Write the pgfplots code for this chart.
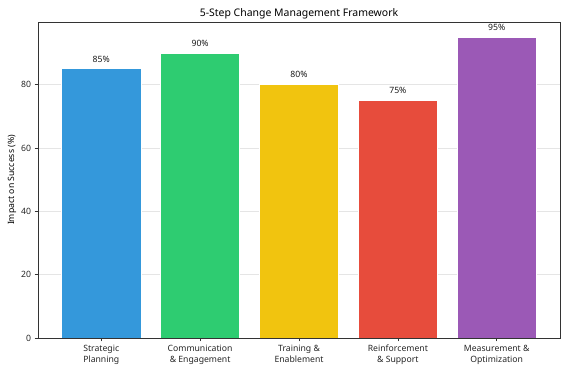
\documentclass[border=0pt]{standalone}
\usepackage{fontspec}
\setmainfont{Noto Sans}
\usepackage{pgfplots}
\pgfplotsset{compat=1.18}
\definecolor{c1}{HTML}{3498DB}
\definecolor{c2}{HTML}{2ECC71}
\definecolor{c3}{HTML}{F1C40F}
\definecolor{c4}{HTML}{E74C3C}
\definecolor{c5}{HTML}{9B59B6}
\definecolor{spine}{HTML}{333333}
\begin{document}
\begin{tikzpicture}
\begin{axis}[
  at={(0,0)}, anchor=south west,
  scale only axis, width=522bp, height=316bp,
  xmin=-0.64, xmax=4.64, ymin=0, ymax=99.75,
  xtick={0,1,2,3,4},
  xticklabels={{Strategic\\Planning},{Communication\\\& Engagement},{Training \&\\Enablement},{Reinforcement\\\& Support},{Measurement \&\\Optimization}},
  xticklabel style={align=center, font=\fontsize{8.7}{11}\selectfont, text=black!85},
  ytick={0,20,40,60,80},
  yticklabel style={font=\fontsize{8.7}{9.5}\selectfont, text=black!85},
  /pgf/number format/assume math mode=true,
  tick align=outside, tick style={spine, line width=0.6pt},
  major tick length=3.5bp,
  xtick pos=bottom, ytick pos=left,
  axis line style={spine, line width=0.6pt},
  ymajorgrids, grid style={black!10, line width=0.6pt},
  ylabel={Impact on Success (\%)},
  ylabel style={font=\fontsize{8.7}{9.5}\selectfont, yshift=-2bp},
  ybar, bar width=0.8, bar shift=0,
  nodes near coords={\pgfmathprintnumber{\pgfplotspointmeta}\%},
  every node near coord/.append style={font=\fontsize{8.7}{9.5}\selectfont, text=black!90, yshift=3bp},
  title={5-Step Change Management Framework},
  title style={font=\fontsize{10.5}{12}\selectfont, yshift=-6.5bp},
  axis on top=false,
]
\addplot[fill=c1, draw=white, line width=0.5pt] coordinates {(0,85)};
\addplot[fill=c2, draw=white, line width=0.5pt] coordinates {(1,90)};
\addplot[fill=c3, draw=white, line width=0.5pt] coordinates {(2,80)};
\addplot[fill=c4, draw=white, line width=0.5pt] coordinates {(3,75)};
\addplot[fill=c5, draw=white, line width=0.5pt] coordinates {(4,95)};
\end{axis}
\path[use as bounding box] (-38bp,-34bp) rectangle (538bp,338bp);
\end{tikzpicture}
\end{document}
